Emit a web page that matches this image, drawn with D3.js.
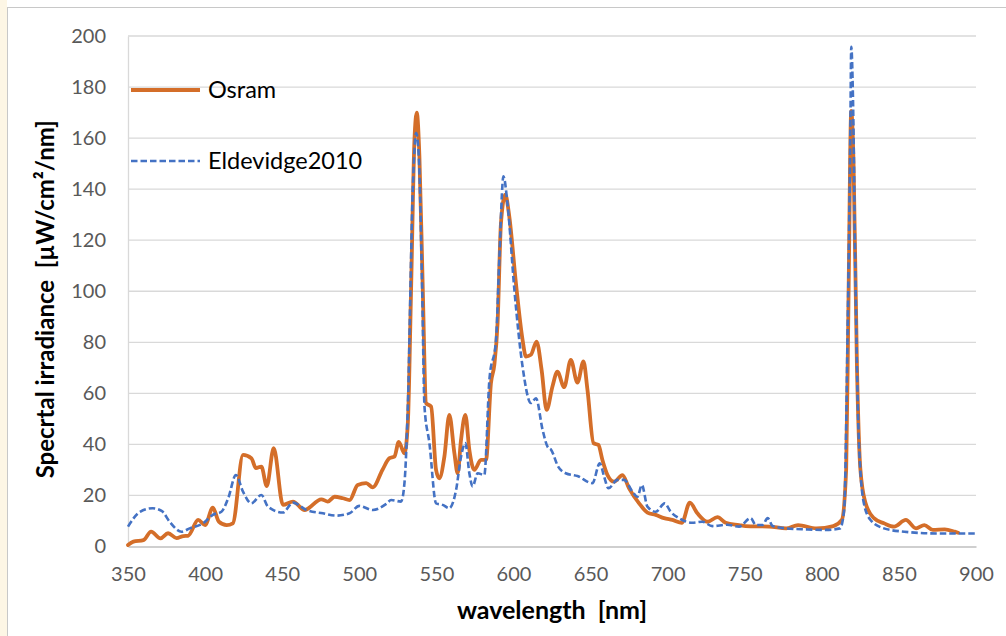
<!DOCTYPE html>
<html><head><meta charset="utf-8">
<script src="https://cdn.jsdelivr.net/npm/d3@7"></script>
<style>html,body{margin:0;padding:0;background:#fff;}svg{display:block;}</style>
</head><body>
<svg id="c" width="1006" height="636"></svg>
<script>
// ---- data ----
const osramWavelength = [350,353.5,360,365,371,376,381.5,386,389,395.5,400,405,409,414,418,424.6,430,433,436.5,440,444.5,450.5,457,464.5,475.4,479.6,484,489.4,493.7,499,504.5,508.8,515,519.6,522.8,525.6,529.3,531.5,533.6,535.8,537.3,539,541.2,543.3,546.6,549.8,551.9,555.2,558.4,561.7,563.8,566,568.8,571.4,574.6,578.9,582.2,585.4,587.6,589.7,591.9,594.7,597.3,601.6,605.9,608.1,611.3,615,618.3,621.5,625.3,628.5,632.9,637.2,641.5,645.4,648,651.9,655.1,657.7,661,665.3,670.7,675,681.5,686.9,692.3,697.7,703.1,709.2,714.4,719.3,725.8,732.3,737.7,746.3,750.6,765.9,776.9,784.6,796.6,807.5,813,815.8,817.3,819.1,820.6,822.8,825,828.3,833.8,840.3,846.9,854.5,861.1,866.5,872,879.7,886.2,888.4];
const osramValue = [0.6,1.9,2.5,5.8,3.2,5.2,3.3,4.1,4.2,10.4,8.4,15.2,9.7,8.4,9.1,35.9,34.6,30.7,31.3,23.7,38.5,16.3,17.6,14.3,18.5,17.6,19.5,18.9,18.2,24.1,24.8,23.2,30,34.6,35.2,41,36.5,48.3,100.6,159.4,170,152.9,100.6,56.2,54.8,30,26.7,35.2,51.6,36.5,28.7,41.8,51.6,37.8,30,33.9,33.9,64,71.2,87.5,126.7,137.8,129.3,103.2,81,74.4,75.1,80.3,69,53.5,62.7,68.5,62.4,73.1,64.2,72.5,61.4,40.5,39.8,33.9,28,25.4,28,22.8,16.9,13.3,12.4,11.1,10.4,9.3,17.2,13,9.7,11.5,9.3,8.4,8,7.8,7.1,8.4,7.1,8,10.4,30.3,96.5,170.7,149.6,70.1,30.3,17.1,11.1,9.1,7.8,10.4,7.1,8.4,6.5,6.7,5.8,5.4];

const eldWavelength = [350,357.8,366,371.8,377,384.7,390,398.7,405,410.6,415,420,424.6,430,436.5,440.8,450.5,457,465.7,476.4,485,493.7,500,508.8,517.5,520.7,527.1,529.3,531.5,534.7,536.9,538.6,540.8,542.3,545.5,549.8,554.1,558.4,562.8,566,568.8,571.4,573.5,576.8,581.1,584.4,588.7,590.9,593.5,596.3,600.6,605.9,611.3,614.6,618.9,622.1,624.5,629,633.9,641.5,651.2,656,658.8,661.6,667.4,671.8,677.2,680.4,683.3,686.9,692.3,698.1,702,707.4,716,722.5,729,738.5,746.3,753.9,757.2,761.5,764.9,768.1,776.9,790,803,811.8,814.5,816.7,818.5,819.1,820.2,821.7,823.9,827.2,831.6,840.3,853.5,875.4,900];
const eldValue = [7.8,13.6,15,14,9.7,5.8,7.1,9.1,12.4,13.6,18.9,28,21.5,16.9,20.2,15.6,13.3,17.2,14.3,13,12.1,13,15.9,14.3,16.7,18.2,17.6,24.8,54.8,139.8,162,152.9,100.6,54.8,40.5,16.9,16.3,15,22.2,35.2,40.5,28.7,23.5,28.7,28,65.3,81,113.7,145,133.3,100.6,70.5,56.2,58.1,45.7,39.1,37.8,31.3,28.7,27.6,24.8,32.6,27.4,22.8,26.1,26.1,21.5,19.5,24.1,15.6,13.6,16.9,13.6,11.1,9.3,9.7,8,8.5,7.8,11.1,8.4,8.4,11.1,8,7.1,6.7,6.5,7.1,14.4,83.3,162.7,195.8,175.9,109.8,43.6,17.1,10.4,7.1,5.8,5.1,5.1];

const xTicks = [350,400,450,500,550,600,650,700,750,800,850,900];
const yTicks = [0,20,40,60,80,100,120,140,160,180,200];
const seriesNames = ["Osram","Eldevidge2010"];
const xTitle = "wavelength  [nm]";
const yTitle = "Specrtal irradiance  [µW/cm²/nm]";

// ---- layout ----
const svg = d3.select("#c");
const L = 128, R = 976, T = 36, B = 546.5;
const x = d3.scaleLinear().domain([350,900]).range([L,R]);
const y = d3.scaleLinear().domain([0,200]).range([B,T]);
const font = "Lato, 'Open Sans', sans-serif";

// background / frame
svg.append("rect").attr("x",0).attr("y",0).attr("width",7).attr("height",636).attr("fill","#FDF6E5");
svg.append("line").attr("x1",7.5).attr("x2",7.5).attr("y1",7).attr("y2",636).attr("stroke","#C8C8C8");
svg.append("line").attr("x1",7).attr("x2",1006).attr("y1",7.5).attr("y2",7.5).attr("stroke","#C8C8C8");

// gridlines
svg.append("g").selectAll("line").data(yTicks.filter(d=>d>0)).join("line")
  .attr("x1",L).attr("x2",R).attr("y1",d=>y(d)).attr("y2",d=>y(d))
  .attr("stroke","#D9D9D9").attr("stroke-width",1.3);

// axes
const xAxis = svg.append("g").attr("transform",`translate(0,${B})`)
  .call(d3.axisBottom(x).tickValues(xTicks).tickSize(0).tickPadding(20));
xAxis.select(".domain").attr("stroke","#BFBFBF").attr("stroke-width",1.5);
xAxis.selectAll("text").attr("font-family",font).attr("font-size",20).attr("fill","#595959");

const yAxis = svg.append("g").attr("transform",`translate(${L},0)`)
  .call(d3.axisLeft(y).tickValues(yTicks).tickSize(0).tickPadding(22));
yAxis.select(".domain").attr("stroke","#D9D9D9").attr("stroke-width",1.3);
yAxis.selectAll("text").attr("font-family",font).attr("font-size",20).attr("fill","#595959");

// axis titles
svg.append("text").attr("x",(L+R)/2).attr("y",619).attr("text-anchor","middle")
  .attr("font-family",font).attr("font-weight","bold").attr("font-size",25).attr("fill","#000")
  .style("white-space","pre").text(xTitle);
svg.append("text").attr("transform",`translate(54,${(T+B)/2+8}) rotate(-90)`).attr("text-anchor","middle")
  .attr("font-family",font).attr("font-weight","bold").attr("font-size",24).attr("fill","#000")
  .style("white-space","pre").text(yTitle);

// lines
const osram = osramWavelength.map((w,i)=>[w,osramValue[i]]);
const eld = eldWavelength.map((w,i)=>[w,eldValue[i]]);
const line = d3.line().x(d=>x(d[0])).y(d=>y(d[1])).curve(d3.curveMonotoneX);
svg.append("path").attr("d",line(osram)).attr("fill","none").attr("stroke","#D46E29")
  .attr("stroke-width",3.8).attr("stroke-linejoin","round").attr("stroke-linecap","round");
svg.append("path").attr("d",line(eld)).attr("fill","none").attr("stroke","#4472C4")
  .attr("stroke-width",2.6).attr("stroke-dasharray","6.5,3");

// legend
const leg = svg.append("g");
const legY = [90, 161];
const legStyle = [{c:"#D46E29",w:3.8,d:null},{c:"#4472C4",w:2.4,d:"6.5,3"}];
seriesNames.forEach((n,i)=>{
  leg.append("line").attr("x1",131).attr("x2",200).attr("y1",legY[i]).attr("y2",legY[i])
    .attr("stroke",legStyle[i].c).attr("stroke-width",legStyle[i].w).attr("stroke-dasharray",legStyle[i].d);
  leg.append("text").attr("x",208).attr("y",legY[i]).attr("dy","0.35em")
    .attr("font-family",font).attr("font-size",23.5).attr("fill","#000").text(n);
});
</script>
</body></html>
